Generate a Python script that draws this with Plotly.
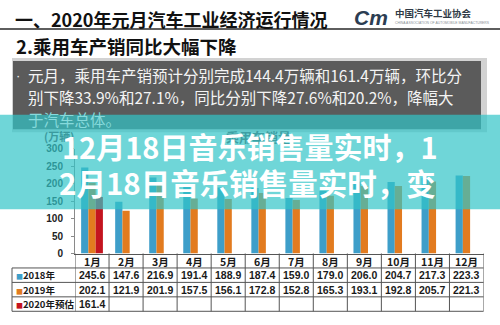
import plotly.graph_objects as go

W, H = 500, 325


def px(x):
    return x / W


def py(y):
    return 1 - y / H


# ---- data -------------------------------------------------------------
months = ['1月', '2月', '3月', '4月', '5月', '6月',
          '7月', '8月', '9月', '10月', '11月', '12月']
sales_2018 = [245.6, 147.6, 216.9, 191.4, 188.9, 187.4,
              159.0, 179.0, 206.0, 204.7, 217.3, 223.3]
sales_2019 = [202.1, 121.9, 201.9, 157.5, 156.1, 172.8,
              152.8, 165.3, 193.1, 192.8, 205.7, 221.3]
sales_2020 = [161.4, None, None, None, None, None,
              None, None, None, None, None, None]
series_names = ['2018年', '2019年', '2020年预估']
y_ticks = [0, 50, 100, 150, 200, 250, 300]

series_values = [sales_2018, sales_2019, sales_2020]
series_colors = ['#3e9ec9', '#e27b1f', '#c4141f']

CJK = 'Noto Sans CJK SC, Noto Sans, sans-serif'
NUM = 'Liberation Sans, Arial, sans-serif'

fig = go.Figure()
for name, vals, col in zip(series_names, series_values, series_colors):
    fig.add_trace(go.Bar(x=months, y=vals, name=name, marker_color=col,
                         marker_line_width=0))

fig.update_layout(
    width=W, height=H,
    margin=dict(l=0, r=0, t=0, b=0),
    paper_bgcolor='white', plot_bgcolor='rgba(0,0,0,0)',
    barmode='group', bargap=0.36, bargroupgap=0,
    showlegend=False,
    xaxis=dict(domain=[px(75), px(483.5)], range=[-0.5, 11.5],
               showticklabels=False, showline=True, linecolor='#555',
               linewidth=1, ticks='', showgrid=False, zeroline=False),
    yaxis=dict(domain=[py(257), py(148)], range=[0, 300], tickvals=y_ticks,
               showline=True, linecolor='#8a8a8a', linewidth=1,
               ticks='outside', ticklen=3, tickcolor='#8a8a8a',
               ticklabelstandoff=6,
               tickfont=dict(family=NUM, size=10, color='#222', weight='bold'),
               showgrid=False, zeroline=False),
)

shapes = []
# header rule
shapes.append(dict(type='line', xref='paper', yref='paper',
                   x0=0, x1=1, y0=py(24), y1=py(24),
                   line=dict(color='#5e5e5e', width=2), layer='above'))
# text box with a light frame
shapes.append(dict(type='rect', xref='paper', yref='paper',
                   x0=px(12), x1=px(487), y0=py(131), y1=py(54),
                   fillcolor='#d2d2d2', line=dict(width=0), layer='above'))
shapes.append(dict(type='rect', xref='paper', yref='paper',
                   x0=px(13), x1=px(481), y0=py(128), y1=py(57),
                   fillcolor='#5b5b5b', line=dict(width=0), layer='above'))
# translucent banner
shapes.append(dict(type='rect', xref='paper', yref='paper',
                   x0=0, x1=1, y0=py(211), y1=py(113),
                   fillcolor='rgba(50,196,199,0.70)', line=dict(width=0),
                   layer='above'))

# table grid
tbl_line = dict(color='#555', width=1)
row_lines = [272, 287, 302, 317]
for yy in row_lines:
    shapes.append(dict(type='line', xref='paper', yref='paper',
                       x0=px(12), x1=px(483.5), y0=py(yy), y1=py(yy),
                       line=tbl_line, layer='above'))
for i in range(len(months) + 1):
    shapes.append(dict(type='line', xref='x', yref='paper',
                       x0=i - 0.5, x1=i - 0.5, y0=py(257), y1=py(317),
                       line=tbl_line, layer='above'))
shapes.append(dict(type='line', xref='paper', yref='paper',
                   x0=px(12), x1=px(12), y0=py(272), y1=py(317),
                   line=tbl_line, layer='above'))
fig.update_layout(shapes=shapes)

ann = []


def text(x, y, s, size, color='#111', family=CJK, weight='normal',
         xanchor='left', xref='paper'):
    ann.append(dict(x=x, y=y, xref=xref, yref='paper', text=s,
                    showarrow=False, xanchor=xanchor, yanchor='middle',
                    font=dict(family=family, size=size, color=color,
                              weight=weight)))


# headings
text(px(13), py(13.5), '一、2020年元月汽车工业经济运行情况', 18, '#111', weight='bold')
text(px(14), py(41.5), '2.乘用车产销同比大幅下降', 18.5, '#111', weight='bold')
# association logo
text(px(352), py(12), '<i>Cm</i>', 21, '#2c3d52', family=NUM, weight='bold')
text(px(393), py(7.5), '中国汽车工业协会', 9.5, '#2f3a46', weight='bold')
text(px(393), py(17.5), 'CHINA ASSOCIATION OF AUTOMOBILE MANUFACTURERS', 3.4,
     '#8a8f96', family=NUM)

# summary box
text(px(14), py(72), '·', 13, '#f2f2f2', family=NUM)
text(px(26), py(72), '元月，乘用车产销预计分别完成144.4万辆和161.4万辆，环比分',
     15.5, '#f4f4f4')
text(px(26), py(94.5), '别下降33.9%和27.1%，同比分别下降27.6%和20.2%，降幅大',
     15.5, '#f4f4f4')
text(px(26), py(117), '于汽车总体。', 15.5, '#86dadc')

# chart labels under the banner
text(px(42), py(135), '(万辆)', 11, '#3a9a9e', weight='bold')
text(px(258), py(136), '乘用车销量', 13, '#3e9fa3', weight='bold', xanchor='center')

# banner headline
text(px(60), py(145), '12月18日音乐销售量实时，1', 29, '#ffffff', weight='bold')
text(px(57), py(183), '2月18日音乐销售量实时，变', 29.5, '#ffffff', weight='bold')

# table header and cells
for i, m in enumerate(months):
    text(i, py(265), m, 10.5, '#1a1a1a', weight='bold', xanchor='center', xref='x')

row_centers = [279.5, 294.5, 309.5]
for name, vals, col, yc in zip(series_names, series_values, series_colors, row_centers):
    text(px(14), py(yc),
         f'<span style="color:{col};font-size:7px">■</span>{name}',
         9.5, '#1a1a1a', weight='bold')
    for i, v in enumerate(vals):
        if v is not None:
            text(i, py(yc), f'{v:.1f}', 10.5, '#1a1a1a', family=NUM,
                 weight='bold', xanchor='center', xref='x')

fig.update_layout(annotations=ann)
fig.write_html('out.html')
